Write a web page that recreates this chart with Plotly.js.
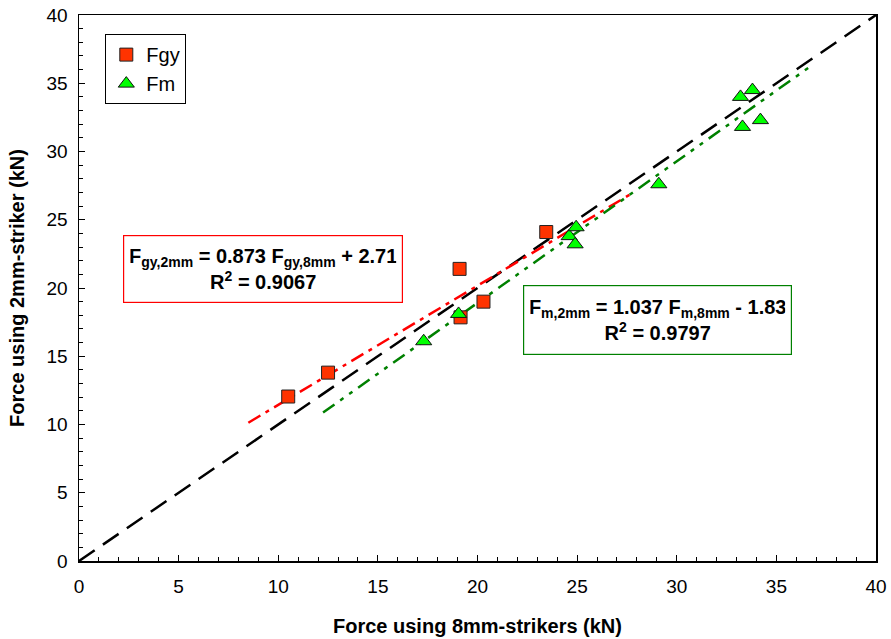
<!DOCTYPE html>
<html>
<head>
<meta charset="utf-8">
<script src="https://cdn.plot.ly/plotly-3.0.1.min.js"></script>
<style>
  html, body { margin: 0; padding: 0; background: #fff; }
  #chart { width: 891px; height: 639px; }
</style>
</head>
<body>
<div id="chart"></div>
<script>
// Yield force Fgy: 8 mm striker vs 2 mm striker (kN)
const fgy8 = [10.5, 12.5, 19.1, 19.15, 20.3, 23.45];
const fgy2 = [12.05, 13.8, 21.4, 17.85, 19.0, 24.1];

// Maximum force Fm: 8 mm striker vs 2 mm striker (kN)
const fm8 = [17.3, 19.05, 24.6, 24.95, 24.9, 29.1, 33.2, 33.8, 33.3, 34.2];
const fm2 = [16.1, 18.1, 23.8, 24.45, 23.2, 27.6, 34.0, 34.5, 31.8, 32.3];

// Linear fits (slope, intercept) and the x-span each fit line covers
const fitGy = { slope: 0.873, intercept: 2.71, from: 8.5, to: 27.8 };
const fitM = { slope: 1.037, intercept: -1.83, from: 12.25, to: 36.8 };

// Equality line
const unity = [0, 40];

const lineOf = f => ({
  x: [f.from, f.to],
  y: [f.from, f.to].map(v => f.slope * v + f.intercept)
});

const gyLine = lineOf(fitGy);
const mLine = lineOf(fitM);

const traces = [
  {
    x: unity, y: unity, mode: 'lines', showlegend: false, hoverinfo: 'skip',
    line: { color: '#000', width: 2.5, dash: '19px,10px' }
  },
  {
    x: gyLine.x, y: gyLine.y, mode: 'lines', showlegend: false, hoverinfo: 'skip',
    line: { color: '#ff0000', width: 2.5, dash: '14px,6px,4px,6px' }
  },
  {
    x: mLine.x, y: mLine.y, mode: 'lines', showlegend: false, hoverinfo: 'skip',
    line: { color: '#008000', width: 2.5, dash: '14px,7px,4px,7px,4px,7px' }
  },
  {
    x: fgy8, y: fgy2, mode: 'markers', name: 'Fgy',
    marker: { symbol: 'square', size: 13, color: '#ff3300', line: { color: '#222', width: 1 } }
  },
  {
    x: fm8, y: fm2, mode: 'markers', name: 'Fm',
    marker: { symbol: 'triangle-up', size: 14, color: '#00ff00', line: { color: '#111', width: 1 } }
  }
];

const font = 'Liberation Sans, Arial, sans-serif';

const axisCommon = {
  range: [0, 40],
  dtick: 5,
  ticks: 'inside',
  ticklen: 6,
  tickwidth: 1,
  tickcolor: '#000',
  showline: true,
  linecolor: '#000',
  linewidth: 1.5,
  mirror: true,
  showgrid: false,
  zeroline: false,
  tickfont: { family: font, size: 19, color: '#000' },
  minor: { dtick: 1, ticks: 'inside', ticklen: 4, tickcolor: '#000', tickwidth: 1, showgrid: false }
};

const layout = {
  width: 891,
  height: 639,
  margin: { l: 79, r: 15, t: 15, b: 78 },
  paper_bgcolor: '#fff',
  plot_bgcolor: '#fff',
  font: { family: font, color: '#000' },
  xaxis: Object.assign({}, axisCommon, {
    ticklabelstandoff: 8,
    title: { text: '<b>Force using 8mm-strikers (kN)</b>', font: { family: font, size: 20 }, standoff: 22 }
  }),
  yaxis: Object.assign({}, axisCommon, {
    ticklabelstandoff: 6,
    title: { text: '<b>Force using 2mm-striker (kN)</b>', font: { family: font, size: 20 }, standoff: 16 }
  }),
  legend: {
    x: 0.033, y: 0.965, xanchor: 'left', yanchor: 'top',
    bgcolor: '#fff', bordercolor: '#000', borderwidth: 1,
    font: { family: font, size: 20 },
    itemwidth: 30
  },
  annotations: [
    {
      xref: 'paper', yref: 'paper', x: 0.231, y: 0.535, xanchor: 'center', yanchor: 'middle',
      text: '<b>F<sub>gy,2mm</sub> = 0.873 F<sub>gy,8mm</sub> + 2.71</b><br><b>R<sup>2</sup> = 0.9067</b>',
      showarrow: false, align: 'center',
      font: { family: font, size: 20, color: '#000' },
      bgcolor: '#fff', bordercolor: '#ff0000', borderwidth: 1.2, borderpad: 6, width: 266, height: 54
    },
    {
      xref: 'paper', yref: 'paper', x: 0.726, y: 0.4405, xanchor: 'center', yanchor: 'middle',
      text: '<b>F<sub>m,2mm</sub> = 1.037 F<sub>m,8mm</sub> - 1.83</b><br><b>R<sup>2</sup> = 0.9797</b>',
      showarrow: false, align: 'center',
      font: { family: font, size: 20, color: '#000' },
      bgcolor: '#fff', bordercolor: '#008000', borderwidth: 1.2, borderpad: 6, width: 255, height: 56
    }
  ]
};

Plotly.newPlot('chart', traces, layout, { displayModeBar: false, staticPlot: true });
</script>
</body>
</html>
